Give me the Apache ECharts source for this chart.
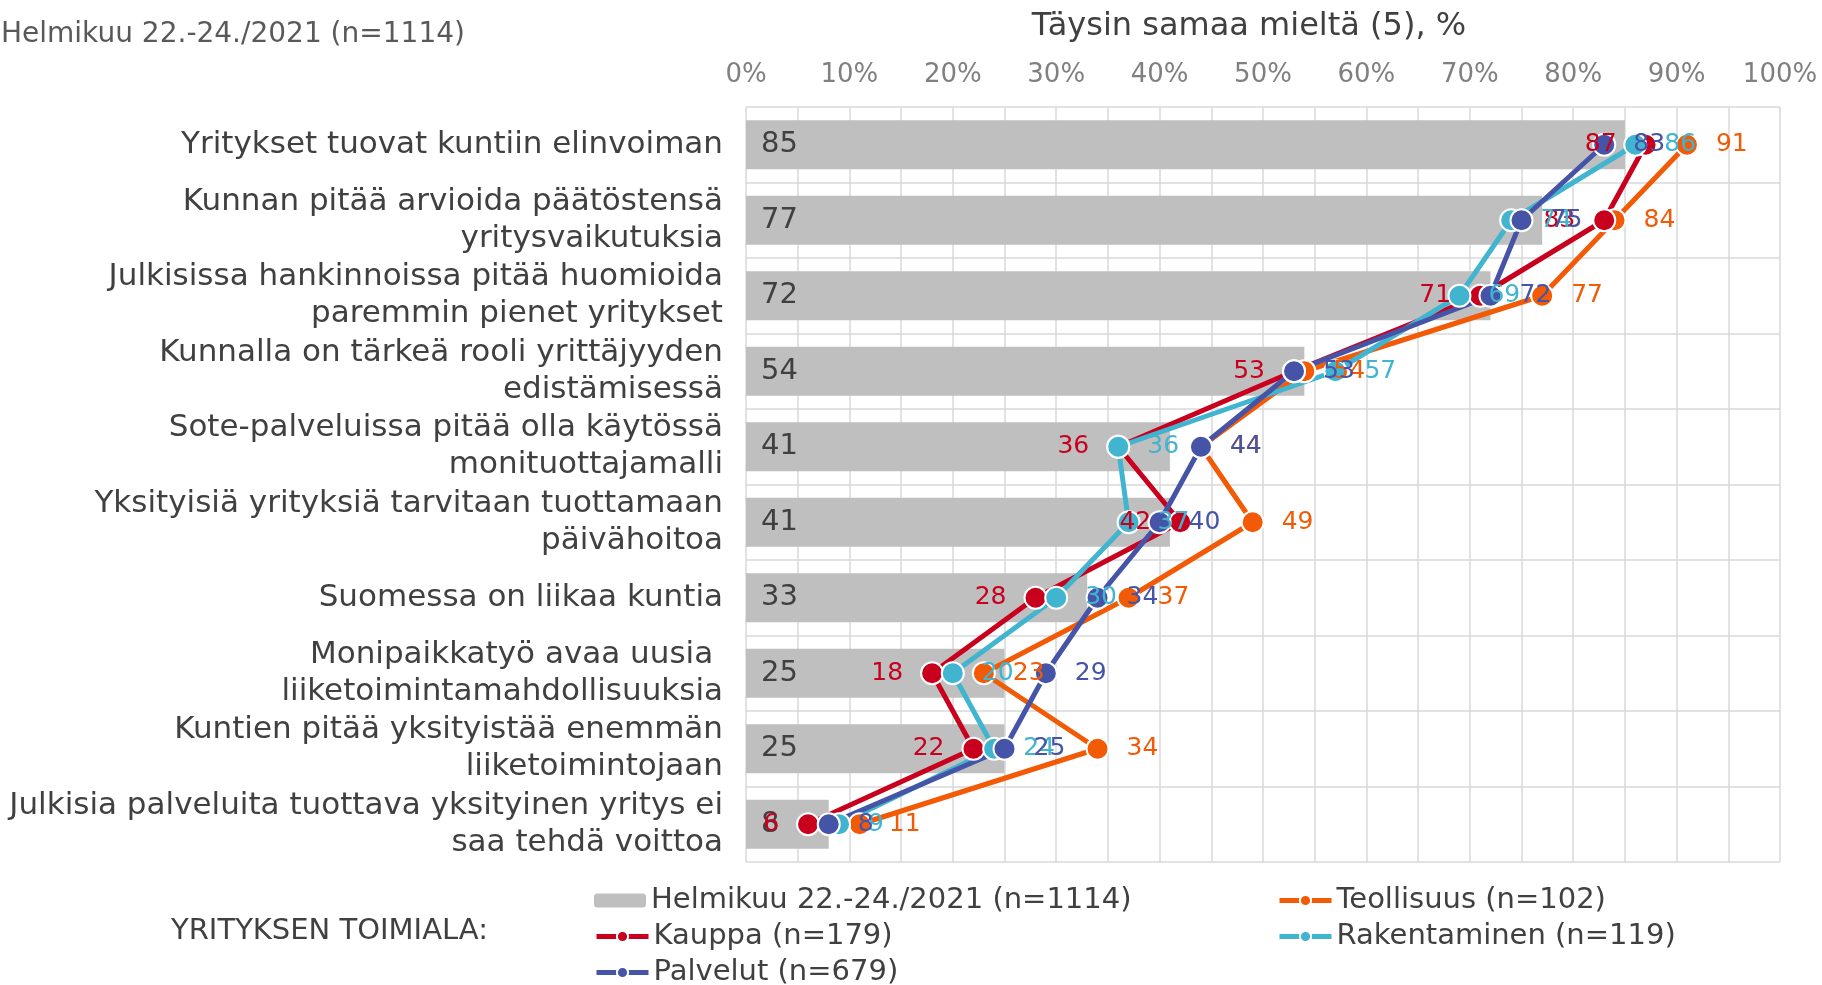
<!DOCTYPE html>
<html lang="fi">
<head>
    <meta charset="UTF-8">
    <title>Täysin samaa mieltä (5), %</title>
    <script src="https://cdn.jsdelivr.net/npm/echarts@6/dist/echarts.min.js"></script>
    <style>
        html, body { margin: 0; padding: 0; background: #fff; }
    </style>
</head>
<body>
    <div id="chart" style="width: 1822px; height: 985px;"></div>

    <script>
        var kategoriat = [
            'Yritykset tuovat kuntiin elinvoiman',
            'Kunnan pitää arvioida päätöstensä\nyritysvaikutuksia',
            'Julkisissa hankinnoissa pitää huomioida\nparemmin pienet yritykset',
            'Kunnalla on tärkeä rooli yrittäjyyden\nedistämisessä',
            'Sote-palveluissa pitää olla käytössä\nmonituottajamalli',
            'Yksityisiä yrityksiä tarvitaan tuottamaan\npäivähoitoa',
            'Suomessa on liikaa kuntia',
            'Monipaikkatyö avaa uusia \nliiketoimintamahdollisuuksia',
            'Kuntien pitää yksityistää enemmän\nliiketoimintojaan',
            'Julkisia palveluita tuottava yksityinen yritys ei\nsaa tehdä voittoa'
        ];

        var kaikki = [85, 77, 72, 54, 41, 41, 33, 25, 25, 8];
        var teollisuus = [91, 84, 77, 54, 44, 49, 37, 23, 34, 11];
        var kauppa = [87, 83, 71, 53, 36, 42, 28, 18, 22, 6];
        var rakentaminen = [86, 74, 69, 57, 36, 37, 30, 20, 24, 9];
        var palvelut = [83, 75, 72, 53, 44, 40, 34, 29, 25, 8];

        var nimet = {
            kaikki: 'Helmikuu 22.-24./2021 (n=1114)',
            teollisuus: 'Teollisuus (n=102)',
            kauppa: 'Kauppa (n=179)',
            rakentaminen: 'Rakentaminen (n=119)',
            palvelut: 'Palvelut (n=679)'
        };

        var fontti = 'DejaVu Sans';
        var chart = echarts.init(document.getElementById('chart'));

        function viiva(nimi, data, vari, paikka) {
            return {
                name: nimi,
                type: 'line',
                data: data,
                symbol: 'circle',
                symbolSize: 22,
                showAllSymbol: true,
                lineStyle: { color: vari, width: 5 },
                itemStyle: { color: vari, borderColor: '#fff', borderWidth: 2 },
                label: {
                    show: true,
                    position: paikka,
                    distance: 17,
                    color: vari,
                    fontFamily: fontti,
                    fontSize: 25
                },
                emphasis: { disabled: true }
            };
        }

        function selite(nimi, vasen, yla) {
            return {
                data: [nimi],
                left: vasen,
                top: yla,
                itemWidth: 52,
                itemHeight: 14,
                itemGap: 6,
                lineStyle: { width: 5 },
                textStyle: { fontFamily: fontti, fontSize: 29, color: '#404040' }
            };
        }

        chart.setOption({
            animation: false,
            textStyle: { fontFamily: fontti },
            title: {
                text: nimet.kaikki,
                left: -4,
                top: 16,
                textStyle: { fontFamily: fontti, fontSize: 28, fontWeight: 'normal', color: '#595959' }
            },
            graphic: [{
                type: 'text',
                left: 171,
                top: 917,
                style: { text: 'YRITYKSEN TOIMIALA:', fontFamily: fontti, fontSize: 29, fill: '#404040' }
            }],
            legend: [
                selite(nimet.kaikki, 589, 881),
                selite(nimet.teollisuus, 1272, 881),
                selite(nimet.kauppa, 589, 917),
                selite(nimet.rakentaminen, 1272, 917),
                selite(nimet.palvelut, 589, 953)
            ],
            grid: { left: 746, right: 42, top: 107, bottom: 123 },
            xAxis: {
                type: 'value',
                position: 'top',
                min: 0,
                max: 100,
                interval: 10,
                name: 'Täysin samaa mieltä (5), %',
                nameLocation: 'middle',
                nameGap: 64,
                nameTextStyle: { fontFamily: fontti, fontSize: 32, color: '#404040', padding: [0, 28, 0, 0] },
                axisLine: { show: false },
                axisTick: { show: false },
                axisLabel: { formatter: '{value}%', color: '#808080', fontSize: 26, margin: 19, fontFamily: fontti },
                splitLine: { lineStyle: { color: '#d9d9d9', width: 1.5 } },
                minorTick: { show: false, splitNumber: 2 },
                minorSplitLine: { show: true, lineStyle: { color: '#d9d9d9', width: 1.5 } }
            },
            yAxis: {
                type: 'category',
                inverse: true,
                data: kategoriat,
                axisLine: { show: false },
                axisTick: { show: false },
                axisLabel: { color: '#404040', fontSize: 31, lineHeight: 37, margin: 23, fontFamily: fontti, align: 'right' },
                splitLine: { show: true, lineStyle: { color: '#d9d9d9', width: 1.5 } }
            },
            series: [
                {
                    name: nimet.kaikki,
                    type: 'bar',
                    data: kaikki,
                    barWidth: 49,
                    itemStyle: { color: '#bfbfbf' },
                    label: {
                        show: true,
                        position: 'insideLeft',
                        distance: 15,
                        color: '#404040',
                        fontFamily: fontti,
                        fontSize: 29
                    },
                    emphasis: { disabled: true }
                },
                viiva(nimet.teollisuus, teollisuus, '#f25a05', 'right'),
                viiva(nimet.kauppa, kauppa, '#c8001e', 'left'),
                viiva(nimet.rakentaminen, rakentaminen, '#41b4d0', 'right'),
                viiva(nimet.palvelut, palvelut, '#4654a8', 'right')
            ]
        });
    </script>
</body>
</html>
